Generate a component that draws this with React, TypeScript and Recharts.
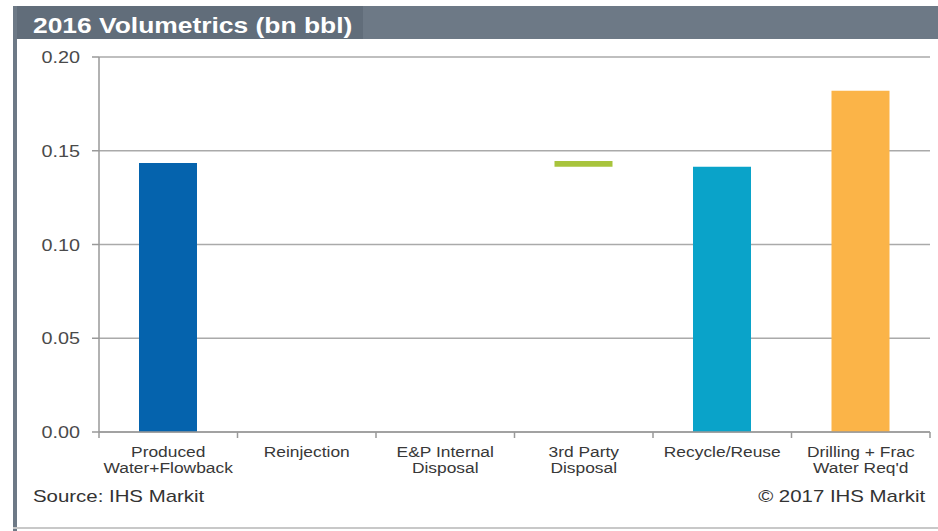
import { BarChart, Bar, XAxis, YAxis, CartesianGrid, Cell } from 'recharts'

const categories = [
  'Produced\nWater+Flowback',
  'Reinjection',
  'E&P Internal\nDisposal',
  '3rd Party\nDisposal',
  'Recycle/Reuse',
  'Drilling + Frac\nWater Req\'d',
]
// waterfall: invisible base + visible step
const baseValues = [0, 0, 0, 0.1415, 0, 0]
const stepValues = [0.1435, 0, 0, 0.003, 0.1415, 0.182]
const barColors = ['#0563ad', '#0563ad', '#0563ad', '#a8c43c', '#0aa3c9', '#fbb448']
const yTicks = [0, 0.05, 0.1, 0.15, 0.2]

const W = 938
const H = 531
const PLOT_LEFT = 99
const PLOT_RIGHT = 930
const FONT = '"Liberation Sans", Arial, sans-serif'
const STRETCH = 1.2 // the source image is a bit wide

const data = categories.map((name, i) => ({ name, base: baseValues[i], step: stepValues[i] }))

function CategoryTick({ x, y, payload, index }: any) {
  const band = (PLOT_RIGHT - PLOT_LEFT) / categories.length
  const lines = String(payload.value).split('\n')
  return (
    <g>
      <line x1={x - band / 2} x2={x - band / 2} y1={y} y2={y + 6} stroke="#999" strokeWidth={1.5} />
      {index === categories.length - 1 && (
        <line x1={x + band / 2} x2={x + band / 2} y1={y} y2={y + 6} stroke="#999" strokeWidth={1.5} />
      )}
      <text
        transform={`translate(${x},${y}) scale(${STRETCH},1)`}
        textAnchor="middle"
        fontFamily={FONT}
        fontSize={14.5}
        fill="#383838"
      >
        {lines.map((l, i) => (
          <tspan key={i} x={0} dy={i === 0 ? 25 : 16}>
            {l}
          </tspan>
        ))}
      </text>
    </g>
  )
}

function ValueTick({ x, y, payload }: any) {
  return (
    <text
      transform={`translate(${x},${y}) scale(${STRETCH},1)`}
      textAnchor="end"
      dy={6}
      fontFamily={FONT}
      fontSize={16.5}
      fill="#4a4a4a"
    >
      {Number(payload.value).toFixed(2)}
    </text>
  )
}

const noteStyle: any = {
  position: 'absolute', top: 486, fontFamily: FONT, fontSize: 17, color: '#333',
  lineHeight: '22px', transform: `scaleX(${STRETCH})`, whiteSpace: 'nowrap',
}

export default function App() {
  return (
    <div style={{ position: 'absolute', left: 0, top: 0, width: W, height: H, background: '#fff', overflow: 'hidden' }}>
      {/* frame */}
      <div style={{ position: 'absolute', left: 13, top: 6, width: W - 13, height: 33, background: '#6d7986' }} />
      <div style={{ position: 'absolute', left: 13, top: 6, width: 350, height: 33, background: '#616d7a' }} />
      <div style={{ position: 'absolute', left: 13, top: 6, width: 4, height: H - 6, background: '#6d7986' }} />
      <div style={{ position: 'absolute', left: 13, top: 527, width: W - 13, height: 2, background: '#c8c8c8' }} />
      <div
        style={{
          position: 'absolute', left: 33, top: 11, fontFamily: FONT, fontWeight: 'bold',
          fontSize: 22, color: '#fff', lineHeight: '30px', whiteSpace: 'nowrap',
          transform: `scaleX(${STRETCH})`, transformOrigin: 'left center',
        }}
      >
        2016 Volumetrics (bn bbl)
      </div>
      <div style={{ ...noteStyle, left: 33, transformOrigin: 'left center' }}>Source: IHS Markit</div>
      <div style={{ ...noteStyle, right: 13, transformOrigin: 'right center' }}>© 2017 IHS Markit</div>
      <div style={{ position: 'absolute', left: 0, top: 0 }}>
        <BarChart
          width={W}
          height={H}
          data={data}
          margin={{ top: 57, right: W - PLOT_RIGHT, bottom: 0, left: 0 }}
          barSize={58}
        >
          <CartesianGrid vertical={false} stroke="#aaa" strokeWidth={1.5} />
          <XAxis
            dataKey="name"
            height={99}
            interval={0}
            tickLine={false}
            tickSize={0}
            tickMargin={0}
            axisLine={{ stroke: '#999', strokeWidth: 1.5 }}
            tick={<CategoryTick />}
          />
          <YAxis
            width={PLOT_LEFT}
            domain={[0, 0.2]}
            ticks={yTicks}
            tickSize={7}
            tickMargin={12}
            axisLine={{ stroke: '#999', strokeWidth: 1.5 }}
            tickLine={{ stroke: '#999', strokeWidth: 1.5 }}
            tick={<ValueTick />}
          />
          <Bar dataKey="base" stackId="w" fill="transparent" isAnimationActive={false} />
          <Bar dataKey="step" stackId="w" isAnimationActive={false}>
            {data.map((_, i) => (
              <Cell key={i} fill={barColors[i]} />
            ))}
          </Bar>
        </BarChart>
      </div>
    </div>
  )
}
